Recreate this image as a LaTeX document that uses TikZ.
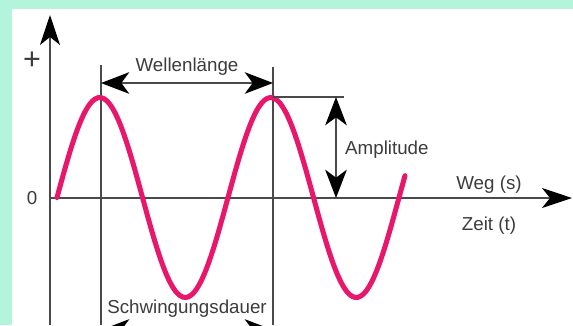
\documentclass[tikz,border=0pt]{standalone}
\usepackage{fontspec}
\setmainfont{Liberation Sans}
\usepackage{tikz}
\usetikzlibrary{arrows.meta}
\definecolor{Mint}{HTML}{B2F5DC}
\definecolor{WavePink}{HTML}{E8176C}
\definecolor{Ink}{HTML}{3C3C3C}
\definecolor{Rule}{HTML}{4A4A4A}
\begin{document}
\begin{tikzpicture}[x=0.03cm, y=-0.03cm,
  every node/.style={font=\fontsize{16}{18}\selectfont, text=Ink, inner sep=0pt},
  rule/.style={draw=Rule, line width=1.2pt},
  dim/.style={draw=Rule, line width=1.2pt, {Stealth[length=8.5mm, width=6.5mm, inset=2.4mm, color=black]}-{Stealth[length=8.5mm, width=6.5mm, inset=2.4mm, color=black]}}]
% frame
\fill[Mint] (0,0) rectangle (573,325);
\fill[white] (12,9) rectangle (573,325);
\useasboundingbox (0,0) rectangle (573,325);
\begin{scope}
\clip (12,9) rectangle (573,325);
% axes
\coordinate (origin) at (50,198);
\coordinate (ytop) at (50,15);
\coordinate (ybot) at (50,325);
\coordinate (xend) at (572,198);
\draw[rule, -{Stealth[length=9mm, width=6mm, inset=2.4mm, color=black]}] (ybot) -- (ytop);
\draw[rule, -{Stealth[length=9mm, width=6mm, inset=2.4mm, color=black]}] (origin) -- (xend);
\node[font=\fontsize{26}{28}\selectfont] at (32,61) {+};
\node[anchor=base] at (32,204) {0};
% marker lines
\coordinate (peakA) at (101,97);
\coordinate (peakB) at (273,97);
\coordinate (markA) at (101,65);
\coordinate (markB) at (273,67);
\coordinate (footA) at (101,325);
\coordinate (footB) at (273,325);
\draw[rule] (markA) -- (footA);
\draw[rule] (markB) -- (footB);
% wave
\draw[WavePink, line width=4.3pt, line cap=round]
  plot[domain=57:405, samples=120, smooth] (\x, {197.5-100*sin(2.10526*(\x-57))});
% wavelength
\coordinate (wlA) at (101,83);
\coordinate (wlB) at (273,83);
\draw[dim] (wlA) -- (wlB);
\node[anchor=base] (wl) at (187,71) {Wellenlänge};
% amplitude
\coordinate (ampEnd) at (344,97);
\coordinate (ampTop) at (336,97);
\coordinate (ampBot) at (336,198);
\draw[rule] (peakB) -- (ampEnd);
\draw[dim] (ampTop) -- (ampBot);
\node[anchor=base west] (amp) at (345,154) {Amplitude};
% axis labels
\node[anchor=base] (weg) at (489,189) {Weg (s)};
\node[anchor=base] (zeit) at (489,230) {Zeit (t)};
% period
\coordinate (sdA) at (101,330);
\coordinate (sdB) at (273,330);
\draw[dim] (sdA) -- (sdB);
\node[anchor=base] (sd) at (187,313) {Schwingungsdauer};
\end{scope}
\end{tikzpicture}
\end{document}
